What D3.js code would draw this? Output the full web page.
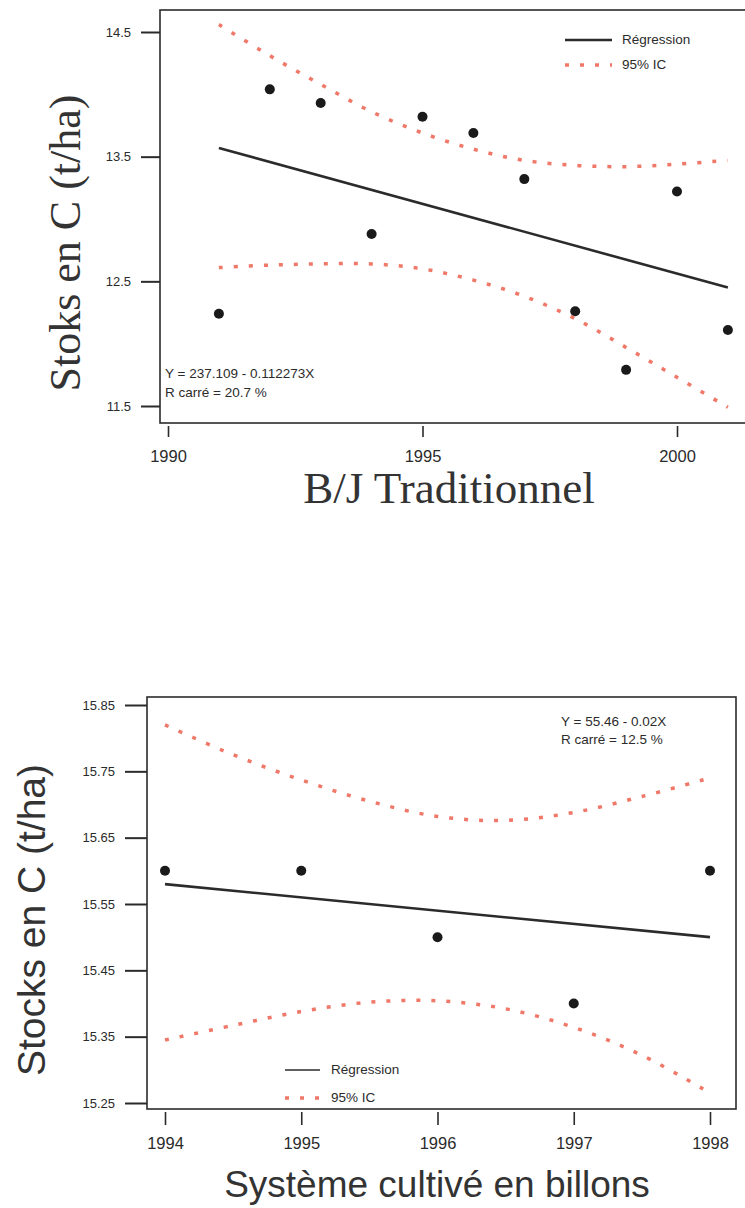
<!DOCTYPE html>
<html>
<head>
<meta charset="utf-8">
<script src="https://cdnjs.cloudflare.com/ajax/libs/d3/7.8.5/d3.min.js"></script>
<style>
  body { margin: 0; background: #fff; }
  svg { display: block; }
</style>
</head>
<body>
<script>
// ---------- DATA: top chart (B/J Traditionnel) ----------
const topYears = [1991, 1992, 1993, 1994, 1995, 1996, 1997, 1998, 1999, 2000, 2001];
const topStocks = [12.24, 14.04, 13.93, 12.88, 13.82, 13.69, 13.32, 12.26, 11.79, 13.22, 12.11];
const topRegYears = [1991, 2001];
const topRegValues = [13.57, 12.45];
const topCIYears = [1991, 1992, 1993, 1994, 1995, 1996, 1997, 1998, 1999, 2000, 2001];
const topCIUpper = [14.56, 14.31, 14.08, 13.86, 13.69, 13.56, 13.47, 13.43, 13.42, 13.44, 13.47];
const topCILower = [12.61, 12.63, 12.64, 12.64, 12.60, 12.51, 12.38, 12.20, 11.97, 11.73, 11.49];
const topYTicks = [11.5, 12.5, 13.5, 14.5];
const topXTicks = [1990, 1995, 2000];
const topEquation = ["Y = 237.109 - 0.112273X", "R carré = 20.7 %"];
const topXTitle = "B/J Traditionnel";
const topYTitle = "Stoks en C (t/ha)";

// ---------- DATA: bottom chart (Système cultivé en billons) ----------
const botYears = [1994, 1995, 1996, 1997, 1998];
const botStocks = [15.60, 15.60, 15.50, 15.40, 15.60];
const botRegYears = [1994, 1998];
const botRegValues = [15.58, 15.50];
const botCIYears = [1994, 1994.5, 1995, 1995.5, 1996, 1996.5, 1997, 1997.5, 1998];
const botCIUpper = [15.82, 15.775, 15.737, 15.705, 15.682, 15.676, 15.688, 15.712, 15.74];
const botCILower = [15.345, 15.367, 15.388, 15.402, 15.404, 15.392, 15.364, 15.322, 15.265];
const botYTicks = [15.25, 15.35, 15.45, 15.55, 15.65, 15.75, 15.85];
const botXTicks = [1994, 1995, 1996, 1997, 1998];
const botEquation = ["Y = 55.46 - 0.02X", "R carré = 12.5 %"];
const botXTitle = "Système cultivé en billons";
const botYTitle = "Stocks en C (t/ha)";

const legendLabels = ["Régression", "95% IC"];

// ---------- STYLE ----------
const ink = "#2b2b2b";
const red = "#f07868";
const sans = "'Liberation Sans', Arial, sans-serif";
const serif = "'Liberation Serif', 'Times New Roman', serif";

const svg = d3.select("body").append("svg").attr("width", 745).attr("height", 1208);
svg.append("rect").attr("width", 745).attr("height", 1208).attr("fill", "#fff");

function drawChart(cfg) {
  const g = svg.append("g");
  const x = d3.scaleLinear().domain(cfg.xDomain).range(cfg.xRange);
  const y = d3.scaleLinear().domain(cfg.yDomain).range(cfg.yRange);
  const f = cfg.frame;

  // frame
  g.append("rect").attr("x", f.l).attr("y", f.t).attr("width", f.r - f.l).attr("height", f.b - f.t)
    .attr("fill", "none").attr("stroke", ink).attr("stroke-width", 1.6);

  // y axis
  const ya = g.append("g").attr("transform", `translate(${f.l},0)`)
    .call(d3.axisLeft(y).tickValues(cfg.yTicks).tickFormat(d3.format(cfg.yFmt))
      .tickSize(cfg.yTickLen).tickPadding(cfg.yPad));
  ya.select(".domain").remove();
  ya.selectAll("line").attr("stroke", ink).attr("stroke-width", 2);
  ya.selectAll("text").attr("font-family", sans).attr("font-size", cfg.yFont).attr("fill", ink);

  // x axis
  const xa = g.append("g").attr("transform", `translate(0,${f.b + cfg.xGap})`)
    .call(d3.axisBottom(x).tickValues(cfg.xTicks).tickFormat(d3.format("d"))
      .tickSize(cfg.xTickLen).tickPadding(cfg.xPad));
  xa.select(".domain").remove();
  xa.selectAll("line").attr("stroke", ink).attr("stroke-width", 1.6);
  xa.selectAll("text").attr("font-family", sans).attr("font-size", cfg.xFont).attr("fill", ink);

  // CI lines
  const ciLine = d3.line().x(d => x(d[0])).y(d => y(d[1])).curve(d3.curveCatmullRom);
  [cfg.ciUpper, cfg.ciLower].forEach(arr => {
    g.append("path").datum(cfg.ciYears.map((yr, i) => [yr, arr[i]]))
      .attr("d", ciLine).attr("fill", "none").attr("stroke", red)
      .attr("stroke-width", 3.5).attr("stroke-dasharray", "4,11");
  });

  // regression line
  g.append("path").datum(cfg.regYears.map((yr, i) => [yr, cfg.regValues[i]]))
    .attr("d", d3.line().x(d => x(d[0])).y(d => y(d[1])))
    .attr("fill", "none").attr("stroke", ink).attr("stroke-width", 2.6);

  // points
  g.selectAll("circle.pt").data(cfg.years.map((yr, i) => [yr, cfg.values[i]]))
    .enter().append("circle").attr("class", "pt")
    .attr("cx", d => x(d[0])).attr("cy", d => y(d[1])).attr("r", 5).attr("fill", "#1a1a1a");

  // equation
  cfg.equation.forEach((t, i) => {
    g.append("text").attr("x", cfg.eq.x).attr("y", cfg.eq.y + i * cfg.eq.dy)
      .attr("font-family", sans).attr("font-size", cfg.eq.size).attr("fill", ink)
      .attr("dominant-baseline", "middle").text(t);
  });

  // legend
  const L = cfg.legend;
  g.append("line").attr("x1", L.x1).attr("x2", L.x2).attr("y1", L.y).attr("y2", L.y)
    .attr("stroke", ink).attr("stroke-width", L.w);
  g.append("line").attr("x1", L.x1).attr("x2", L.x2).attr("y1", L.y + L.dy).attr("y2", L.y + L.dy)
    .attr("stroke", red).attr("stroke-width", 3.5).attr("stroke-dasharray", "4,11");
  legendLabels.forEach((t, i) => {
    g.append("text").attr("x", L.tx).attr("y", L.y + i * L.dy).attr("dominant-baseline", "middle")
      .attr("font-family", sans).attr("font-size", L.size).attr("fill", ink).text(t);
  });

  // titles
  g.append("text").attr("x", cfg.xt.x).attr("y", cfg.xt.y).attr("text-anchor", "middle")
    .attr("font-family", cfg.titleFont).attr("font-size", cfg.xt.size).attr("fill", "#333")
    .text(cfg.xTitle);
  g.append("text").attr("transform", `translate(${cfg.yt.x},${cfg.yt.y}) rotate(-90)`)
    .attr("text-anchor", "middle")
    .attr("font-family", cfg.titleFont).attr("font-size", cfg.yt.size).attr("fill", "#333")
    .text(cfg.yTitle);
}

drawChart({
  frame: { l: 160, r: 748, t: 10, b: 423 },
  xDomain: [1990, 2000], xRange: [168, 677],
  yDomain: [11.5, 14.5], yRange: [406, 32],
  yTicks: topYTicks, yFmt: ".1f", yTickLen: 19, yPad: 10, yFont: 13,
  xTicks: topXTicks, xGap: 3, xTickLen: 11, xPad: 13, xFont: 16.5,
  years: topYears, values: topStocks,
  regYears: topRegYears, regValues: topRegValues,
  ciYears: topCIYears, ciUpper: topCIUpper, ciLower: topCILower,
  equation: topEquation, eq: { x: 165, y: 374, dy: 19, size: 13.5 },
  legend: { x1: 565, x2: 612, y: 40, dy: 25, tx: 622, size: 13.5, w: 2.6 },
  titleFont: serif,
  xTitle: topXTitle, xt: { x: 449, y: 503, size: 45 },
  yTitle: topYTitle, yt: { x: 80, y: 243, size: 44 }
});

drawChart({
  frame: { l: 147, r: 736, t: 697, b: 1109 },
  xDomain: [1994, 1998], xRange: [165, 710],
  yDomain: [15.25, 15.85], yRange: [1103, 705],
  yTicks: botYTicks, yFmt: ".2f", yTickLen: 22, yPad: 10, yFont: 13,
  xTicks: botXTicks, xGap: 3, xTickLen: 13, xPad: 12, xFont: 16.5,
  years: botYears, values: botStocks,
  regYears: botRegYears, regValues: botRegValues,
  ciYears: botCIYears, ciUpper: botCIUpper, ciLower: botCILower,
  equation: botEquation, eq: { x: 561, y: 722, dy: 18, size: 13.5 },
  legend: { x1: 285, x2: 320, y: 1070, dy: 28, tx: 331, size: 13.5, w: 1.6 },
  titleFont: sans,
  xTitle: botXTitle, xt: { x: 437, y: 1197, size: 37 },
  yTitle: botYTitle, yt: { x: 45, y: 920, size: 39 }
});
</script>
</body>
</html>
